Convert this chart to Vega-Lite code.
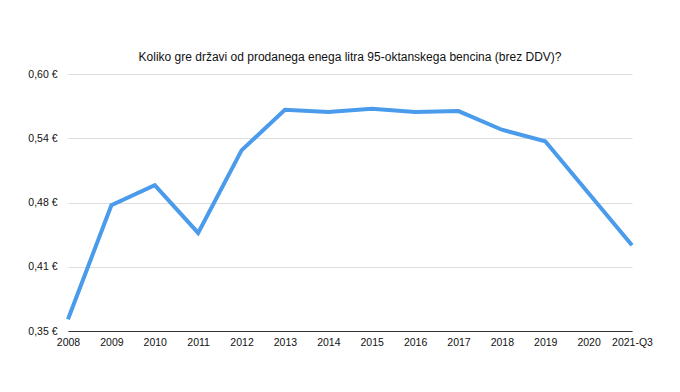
{
  "$schema": "https://vega.github.io/schema/vega-lite/v6.json",
  "width": 564,
  "height": 257,
  "autosize": "none",
  "padding": {"left": 68, "top": 74, "right": 48, "bottom": 61},
  "background": "white",
  "title": {
    "text": "Koliko gre državi od prodanega enega litra 95-oktanskega bencina (brez DDV)?",
    "font": "Liberation Sans",
    "fontSize": 12,
    "fontWeight": "normal",
    "color": "#111111",
    "anchor": "middle",
    "offset": 5
  },
  "config": {
    "view": {"stroke": null},
    "font": "Liberation Sans"
  },
  "data": {
    "values": [
      {"year": "2008", "value": 0.3614},
      {"year": "2009", "value": 0.4723},
      {"year": "2010", "value": 0.4918},
      {"year": "2011", "value": 0.4454},
      {"year": "2012", "value": 0.5257},
      {"year": "2013", "value": 0.5653},
      {"year": "2014", "value": 0.5630},
      {"year": "2015", "value": 0.5663},
      {"year": "2016", "value": 0.5630},
      {"year": "2017", "value": 0.5639},
      {"year": "2018", "value": 0.5458},
      {"year": "2019", "value": 0.5345},
      {"year": "2020", "value": 0.4840},
      {"year": "2021-Q3", "value": 0.4335}
    ]
  },
  "mark": {"type": "line", "color": "#4A9BEB", "strokeWidth": 4, "strokeJoin": "miter", "strokeCap": "butt"},
  "encoding": {
    "x": {
      "field": "year",
      "type": "ordinal",
      "scale": {"type": "point", "padding": 0},
      "axis": {
        "title": null,
        "labelAngle": 0,
        "ticks": false,
        "domainColor": "#333333",
        "domainWidth": 1.2,
        "labelColor": "#111111",
        "labelFontSize": 10.5,
        "labelPadding": 6,
        "grid": false
      }
    },
    "y": {
      "field": "value",
      "type": "quantitative",
      "scale": {"domain": [0.35, 0.6], "nice": false, "zero": false},
      "axis": {
        "title": null,
        "values": [0.35, 0.4125, 0.475, 0.5375, 0.6],
        "labelExpr": "replace(format(datum.value + 0.0001, '.2f'), '.', ',') + ' €'",
        "domain": false,
        "ticks": false,
        "grid": true,
        "gridColor": "#dddddd",
        "gridWidth": 1,
        "labelColor": "#111111",
        "labelFontSize": 10.5,
        "labelPadding": 11
      }
    }
  }
}
